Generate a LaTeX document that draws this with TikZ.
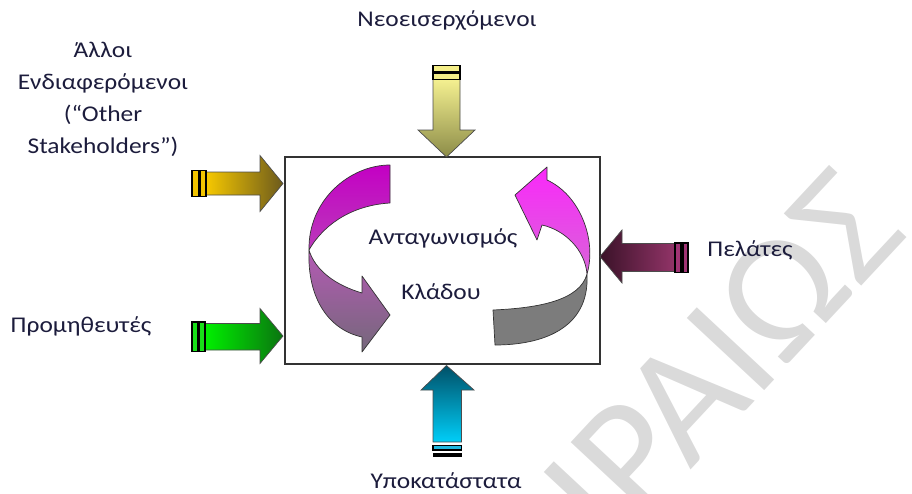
\documentclass[tikz,border=0pt]{standalone}
\usepackage{fontspec}
\setmainfont{Carlito}[FakeStretch=1.13]
\newfontfamily\wmfont{Carlito}
\definecolor{txt}{HTML}{1C1C3C}
\definecolor{wmgray}{HTML}{DADADA}
\definecolor{ylA}{HTML}{F6C800}
\definecolor{ylB}{HTML}{6C5A1C}
\definecolor{ylT}{HTML}{F2C400}
\definecolor{grA}{HTML}{00F000}
\definecolor{grB}{HTML}{0A7410}
\definecolor{grT}{HTML}{18E018}
\definecolor{mrA}{HTML}{3A1228}
\definecolor{mrB}{HTML}{923468}
\definecolor{mrT}{HTML}{A03474}
\definecolor{olA}{HTML}{F4F090}
\definecolor{olB}{HTML}{8C8C48}
\definecolor{olT}{HTML}{F4EE88}
\definecolor{cyA}{HTML}{005068}
\definecolor{cyB}{HTML}{00CEF8}
\definecolor{cyT}{HTML}{20B8E0}
\definecolor{magA}{HTML}{C400C4}
\definecolor{magB}{HTML}{BA3ABA}
\definecolor{mauA}{HTML}{B45AB4}
\definecolor{mauB}{HTML}{74687A}
\definecolor{pnkA}{HTML}{FA28FA}
\definecolor{pnkB}{HTML}{D864D8}
\definecolor{grayR}{HTML}{7C7C7C}
\begin{document}
\begin{tikzpicture}[x=1pt,y=-1pt,
  lbl/.style={font=\fontsize{22.5}{32}\selectfont, text=txt, inner sep=0pt, align=center},
  aout/.style={draw=black!70, line width=0.7pt, line join=miter},
  tailbox/.style={draw=black, line width=1.1pt},
  rib/.style={draw=black!80, line width=0.7pt, line join=round}]
\useasboundingbox (0,0) rectangle (912,493);
\begin{scope}
\clip (0,0) rectangle (912,493);
\node[rotate=47, text=wmgray, font=\wmfont\fontsize{165}{165}\selectfont, inner sep=0pt] (wm) at (722,358) {ΙΡΑΙΩΣ};
\end{scope}

% central box
\node[draw=black!80, line width=1.2pt, minimum width=315pt, minimum height=207pt, inner sep=0pt] (box) at (442.5,260.5) {};

% curved arrows inside the box
\shade[rib, top color=magA, bottom color=magB]
  (390,165) .. controls (350,165) and (308,200) .. (309,250)
  .. controls (325,222) and (355,205) .. (390,203) -- cycle;
\shade[rib, top color=mauA, bottom color=mauB]
  (309,250) .. controls (307,300) and (330,330) .. (362,337)
  -- (362,352) -- (390,315) -- (362,276) -- (362,293)
  .. controls (335,285) and (315,270) .. (309,250) -- cycle;
\fill[rib, fill=grayR]
  (495,345) .. controls (540,345) and (590,330) .. (587,274)
  .. controls (580,300) and (540,308) .. (493,310) -- cycle;
\shade[rib, top color=pnkA, bottom color=pnkB]
  (587,274) .. controls (597,240) and (580,195) .. (547,180)
  -- (547,167) -- (515,195) -- (537,240) -- (542,225)
  .. controls (565,230) and (585,250) .. (587,274) -- cycle;

\node[lbl] (t1) at (443,238) {Ανταγωνισμός};
\node[lbl] (t2) at (441,292) {Κλάδου};

% block arrow: other stakeholders
\shade[aout, left color=ylA, right color=ylB]
  (206,172) -- (260,172) -- (260,155.5) -- (283,183.5) -- (260,211.5) -- (260,195) -- (206,195) -- cycle;
\filldraw[tailbox, fill=ylT] (192,170.5) rectangle (206,196.5);
\fill[black] (197.5,170.5) rectangle (200.5,196.5);

% block arrow: suppliers
\shade[aout, left color=grA, right color=grB]
  (205,323.5) -- (260,323.5) -- (260,308.5) -- (283,336) -- (260,363.5) -- (260,350) -- (205,350) -- cycle;
\filldraw[tailbox, fill=grT] (192,322) rectangle (205,351.5);
\fill[black] (197,322) rectangle (200,351.5);

% block arrow: customers
\shade[aout, left color=mrA, right color=mrB]
  (600,256.5) -- (622,230) -- (622,243.5) -- (675,243.5) -- (675,271.5) -- (622,271.5) -- (622,283) -- cycle;
\filldraw[tailbox, fill=mrT] (675,243) rectangle (688,272.5);
\fill[black] (680,243) rectangle (683.5,272.5);

% block arrow: new entrants
\shade[aout, top color=olA, bottom color=olB]
  (433,79.5) -- (433,130) -- (418,130) -- (446.5,157) -- (475,130) -- (460,130) -- (460,79.5) -- cycle;
\filldraw[tailbox, fill=olT] (433,65.5) rectangle (460,79.5);
\fill[black] (433,70.5) rectangle (460,73.5);

% block arrow: substitutes
\shade[aout, top color=cyA, bottom color=cyB]
  (433,442) -- (433,390) -- (421,390) -- (446.5,365.5) -- (474,390) -- (461.5,390) -- (461.5,442) -- cycle;
\filldraw[tailbox, fill=cyT] (433,445.5) rectangle (461.5,450);
\fill[black] (432.5,453) rectangle (462,457);

% labels
\node[lbl] (lblNew) at (447,20) {Νεοεισερχόμενοι};
\node[lbl] (lblOther) at (103,99) {Άλλοι\\Ενδιαφερόμενοι\\(“Other\\Stakeholders”)};
\node[lbl] (lblSup) at (81,326) {Προμηθευτές};
\node[lbl] (lblCust) at (750,250) {Πελάτες};
\node[lbl] (lblSub) at (446,481) {Υποκατάστατα};
\end{tikzpicture}
\end{document}
